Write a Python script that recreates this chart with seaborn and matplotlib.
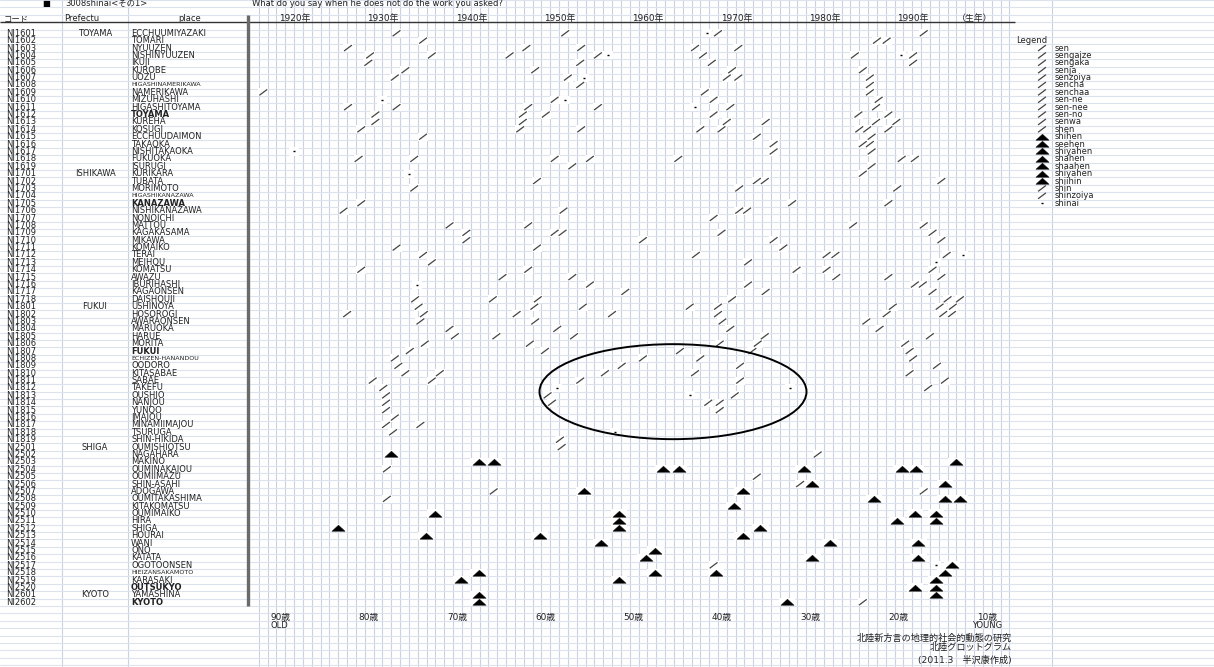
import numpy as np
import pandas as pd
import matplotlib
matplotlib.use("Agg")
import matplotlib.pyplot as plt
from matplotlib.path import Path
from matplotlib.patches import Ellipse
import seaborn as sns

# ---- data -------------------------------------------------------------
pref_names = ["TOYAMA", "ISHIKAWA", "FUKUI", "SHIGA", "KYOTO"]
pref_codes = [16, 17, 18, 25, 26]
pref_counts = [19, 18, 19, 20, 2]

places = [
    "ECCHUUMIYAZAKI", "TOMARI", "NYUUZEN", "NISHINYUUZEN", "IKUJI", "KUROBE", "UOZU",
    "HIGASHINAMERIKAWA", "NAMERIKAWA", "MIZUHASHI", "HIGASHITOYAMA", "TOYAMA", "KUREHA",
    "KOSUGI", "ECCHUUDAIMON", "TAKAOKA", "NISHITAKAOKA", "FUKUOKA", "ISURUGI",
    "KURIKARA", "TUBATA", "MORIMOTO", "HIGASHIKANAZAWA", "KANAZAWA", "NISHIKANAZAWA",
    "NONOICHI", "MATTOU", "KAGAKASAMA", "MIKAWA", "KOMAIKO", "TERAI", "MEIHOU",
    "KOMATSU", "AWAZU", "IBURIHASHI", "KAGAONSEN", "DAISHOUJI",
    "USHINOYA", "HOSOROGI", "AWARAONSEN", "MARUOKA", "HARUE", "MORITA", "FUKUI",
    "ECHIZEN-HANANDOU", "OODORO", "KITASABAE", "SABAE", "TAKEFU", "OUSHIO", "NANJOU",
    "YUNOO", "IMAJOU", "MINAMIIMAJOU", "TSURUGA", "SHIN-HIKIDA",
    "OUMISHIOTSU", "NAGAHARA", "MAKINO", "OUMINAKAJOU", "OUMIIMAZU", "SHIN-ASAHI",
    "ADOGAWA", "OUMITAKASHIMA", "KITAKOMATSU", "OUMIMAIKO", "HIRA", "SHIGA", "HOURAI",
    "WANI", "ONO", "KATATA", "OGOTOONSEN", "HIEIZANSAKAMOTO", "KARASAKI", "OUTSUKYO",
    "YAMASHINA", "KYOTO",
]
bold_places = ["TOYAMA", "KANAZAWA", "FUKUI", "OUTSUKYO", "KYOTO"]
small_places = ["HIGASHINAMERIKAWA", "HIGASHIKANAZAWA", "ECHIZEN-HANANDOU", "HIEIZANSAKAMOTO"]

# birth years of informants, one list per place (row order as above)
sen_years = [
    [1933.6, 1952.7, 1970.0, 1993.3], [1936.6, 1988.0, 1989.1],
    [1928.1, 1948.3, 1954.5, 1967.4, 1972.3],
    [1930.6, 1937.6, 1946.4, 1956.4, 1968.3, 1985.5, 1992.1],
    [1930.4, 1954.4, 1969.3, 1992.1], [1934.6, 1949.3, 1971.6, 1986.4],
    [1933.4, 1953.0, 1971.0, 1972.3, 1987.2], [1954.4, 1987.2], [1918.5, 1968.5, 1987.2],
    [1951.5, 1969.5, 1988.2], [1928.1, 1933.6, 1948.5, 1956.4, 1971.4, 1987.9],
    [1931.2, 1947.9, 1950.5, 1969.5, 1985.9, 1989.3],
    [1931.2, 1947.9, 1971.0, 1975.4, 1987.9, 1990.2],
    [1929.6, 1947.6, 1954.5, 1968.0, 1970.4, 1986.0, 1986.9, 1989.3],
    [1936.6, 1974.4, 1987.4], [1976.3, 1986.4, 1987.2], [1976.3, 1987.4],
    [1929.3, 1935.6, 1951.5, 1955.5, 1965.5, 1990.8, 1992.3], [1953.5, 1987.4],
    [1986.4], [1949.5, 1974.4, 1975.3, 1995.3], [1935.6, 1972.4, 1990.3], [],
    [1929.6, 1978.4, 1989.3], [1927.6, 1952.5, 1972.4, 1973.3], [1969.5],
    [1939.6, 1948.5, 1985.3, 1993.3], [1941.5, 1951.5, 1952.4, 1970.4, 1994.3],
    [1941.5, 1961.5, 1976.3, 1995.3], [1933.6, 1949.5, 1977.4],
    [1936.6, 1967.5, 1982.3, 1983.3, 1995.9], [1937.6, 1973.4],
    [1929.6, 1948.5, 1978.9, 1982.3, 1994.3], [1945.6, 1953.5, 1983.4, 1989.3, 1995.3],
    [1955.5, 1973.4, 1992.3, 1993.2], [1959.5, 1975.4, 1994.3],
    [1935.7, 1944.5, 1949.6, 1971.6, 1996.0, 1997.4],
    # Fukui
    [1936.1, 1949.2, 1954.7, 1966.8, 1970.0, 1989.8, 1995.1, 1996.6],
    [1928.0, 1936.7, 1947.2, 1958.0, 1970.0, 1989.1, 1995.5, 1996.5],
    [1936.3, 1949.3, 1970.5, 1986.8], [1939.6, 1951.8, 1971.4, 1988.3],
    [1940.2, 1944.9, 1953.7, 1975.3, 1994.0], [1936.8, 1948.7, 1970.2, 1974.5, 1991.2],
    [1935.1, 1950.4, 1965.7, 1973.9, 1991.7], [1933.4, 1961.5, 1968.0, 1992.1],
    [1933.8, 1959.1, 1972.5, 1994.8], [1934.6, 1938.5, 1957.2, 1967.4, 1991.7],
    [1930.9, 1937.6, 1954.4, 1972.5, 1995.7], [1932.1, 1993.8],
    [1932.4, 1950.7, 1971.9], [1932.4, 1951.2, 1968.9, 1970.2], [1932.4, 1970.2],
    [1933.4], [1932.4, 1936.3], [1933.2], [1952.1],
    # Shiga, Kyoto
    [1952.3], [1981.3], [], [1932.5], [1974.4], [1979.3], [1944.6, 1993.3], [1932.5],
    [], [], [], [], [], [], [], [], [1969.5], [], [], [], [], [1986.4],
]
hen_years = [[] for _ in range(56)] + [
    [], [1933.0], [1942.9, 1944.6, 1997.0], [1963.8, 1965.6, 1979.7, 1990.8, 1992.4],
    [], [1980.6, 1995.7], [1954.8, 1972.8], [1987.7, 1995.7, 1997.4], [1971.8],
    [1938.0, 1958.8, 1992.3, 1994.7], [1958.8, 1990.3, 1994.7], [1927.0, 1958.8, 1974.8],
    [1936.9, 1949.8, 1972.8], [1956.8, 1982.7, 1992.7], [1962.9],
    [1961.8, 1980.7, 1992.7], [1996.5], [1942.9, 1962.9, 1969.8, 1995.7],
    [1940.9, 1958.8, 1994.7], [1992.3, 1994.7], [1942.9, 1994.7], [1942.9, 1977.8],
]
shinai_years = [
    [1968.8], [], [], [1957.5, 1990.7], [], [], [1954.8], [], [], [1932.0, 1952.7],
    [1967.4], [], [], [], [], [], [1922.0], [], [], [1935.0], [], [], [], [], [], [],
    [], [], [], [], [1997.7], [1994.7], [], [], [1935.9], [], [],
    [], [], [], [], [], [], [], [], [], [], [],
    [1951.8, 1978.2], [1966.8], [], [], [], [], [1958.3], [],
    [], [], [], [], [], [], [], [], [], [], [], [], [], [], [], [],
    [1994.7], [], [], [], [], [],
]

legend_labels = ["sen", "sengaize", "sengaka", "senja", "senzoiya", "sencha", "senchaa",
                 "sen-ne", "sen-nee", "sen-no", "senwa", "shen", "shihen", "seehen",
                 "shiyahen", "shahen", "shaahen", "shiyahen", "shiihin", "shin",
                 "shinzoiya", "shinai"]
legend_kinds = ["sen"] * 12 + ["hen"] * 7 + ["sen"] * 2 + ["shinai"]

decades = [1920, 1930, 1940, 1950, 1960, 1970, 1980, 1990]
ages = [90, 80, 70, 60, 50, 40, 30, 20, 10]

# ---- layout helpers (sheet geometry in pixels) ------------------------
W, H = 1214, 667
COL = 8.83            # pixels per year column
ROW = 7.39            # pixels per sheet row
def yr(px):
    return 1917 + (px - 250) / COL

codes = [f"NI{pc}{k:02d}" for pc, n in zip(pref_codes, pref_counts) for k in range(1, n + 1)]

rows = []
for kind, table in [("sen", sen_years), ("hen", hen_years), ("shinai", shinai_years)]:
    for i, ys in enumerate(table):
        for y in ys:
            rows.append({"year": y, "row": i, "kind": kind})
df = pd.DataFrame(rows)

sns.set_style("white")
plt.rcParams["font.family"] = ["DejaVu Sans", "Noto Sans CJK JP"]

fig = plt.figure(figsize=(W / 100, H / 100), dpi=100)
ax = fig.add_axes([0, 0, 1, 1])
ax.set_xlim(yr(0), yr(W))
ax.set_ylim(-4.5 + H / ROW, -4.5)

# spreadsheet grid
xgrid = [yr(62), yr(128)] + list(range(1918, 2004)) + [yr(1052)]
ax.set_xticks(xgrid, minor=True)
ax.set_yticks(np.arange(-4.5, 86, 1), minor=True)
ax.set_xticks([])
ax.set_yticks([])
ax.xaxis.grid(True, which="minor", color="#c9d2e3", lw=0.8)
ax.yaxis.grid(True, which="minor", color="#dde3ee", lw=0.8)
ax.tick_params(which="both", length=0)
for s in ax.spines.values():
    s.set_visible(False)
ax.set_axisbelow(True)

# marker shapes
slash = Path([(-1, -0.75), (1, 0.75)], [Path.MOVETO, Path.LINETO])
tri = Path([(-1, -0.42), (1, -0.42), (0, 0.5), (-1, -0.42)],
           [Path.MOVETO, Path.LINETO, Path.LINETO, Path.CLOSEPOLY])
box_s = Path([(-1, -0.8), (1, -0.8), (1, 0.8), (-1, 0.8), (-1, -0.8)],
             [Path.MOVETO, Path.LINETO, Path.LINETO, Path.LINETO, Path.CLOSEPOLY])
box_t = Path([(-1, -0.5), (1, -0.5), (1, 0.5), (-1, 0.5), (-1, -0.5)],
             [Path.MOVETO, Path.LINETO, Path.LINETO, Path.LINETO, Path.CLOSEPOLY])

sen = df[df.kind == "sen"]
hen = df[df.kind == "hen"]
nai = df[df.kind == "shinai"]

# white cell backgrounds behind the marks
sns.scatterplot(data=pd.concat([sen, nai]), x="year", y="row", marker=box_s, s=52,
                color="white", edgecolor="none", linewidth=0, legend=False, ax=ax, zorder=2)
sns.scatterplot(data=hen, x="year", y="row", marker=box_t, s=140,
                color="white", edgecolor="none", linewidth=0, legend=False, ax=ax, zorder=2)
# marks
sns.scatterplot(data=sen, x="year", y="row", marker=slash, s=32, color="#444",
                edgecolor="#444", facecolor="none", linewidth=0.9, legend=False, ax=ax, zorder=3)
sns.scatterplot(data=hen, x="year", y="row", marker=tri, s=90, color="black",
                edgecolor="black", linewidth=0.3, legend=False, ax=ax, zorder=3)
sns.scatterplot(data=nai, x="year", y="row", marker="_", s=4, color="black",
                edgecolor="black", linewidth=1.0, legend=False, ax=ax, zorder=3)
ax.set_xlabel("")
ax.set_ylabel("")

# ---- table on the left -------------------------------------------------
tr = ax.get_yaxis_transform()
fs = 6.0
tc = "#222222"
for i, (c, p) in enumerate(zip(codes, places)):
    ax.text(6 / W, i, c, transform=tr, fontsize=fs, va="center", color=tc)
    weight = "bold" if p in bold_places else "normal"
    size = 4.6 if p in small_places else fs
    ax.text(131 / W, i, p, transform=tr, fontsize=size, va="center",
            color=tc, fontweight=weight)
start = 0
for name, n in zip(pref_names, pref_counts):
    ax.text(95 / W, start, name, transform=tr, fontsize=fs, va="center",
            ha="center", color=tc)
    start += n

# header rows
ax.text(42 / W, -4, "■", transform=tr, fontsize=6, va="center", color="black")
ax.text(65 / W, -4, "3008shinai<その1>", transform=tr, fontsize=fs, va="center", color=tc)
ax.text(252 / W, -4, "What do you say when he does not do the work you asked?",
        transform=tr, fontsize=fs, va="center", color=tc)
ax.text(4 / W, -2, "コード", transform=tr, fontsize=fs, va="center", color=tc)
ax.text(64 / W, -2, "Prefectu", transform=tr, fontsize=fs, va="center", color=tc)
ax.text(190 / W, -2, "place", transform=tr, fontsize=fs, va="center", ha="center", color=tc)
for d in decades:
    ax.text(d + 0.3, -2, f"{d}年", fontsize=fs + 0.4, va="center", color=tc)
ax.text(yr(957), -2, "（生年）", fontsize=fs + 0.4, va="center", color=tc)
ax.hlines(-1.5, yr(0), yr(1015), color="#333333", lw=1.0, zorder=4)
ax.vlines(yr(248), -2.5, 77.5, color="#6a6a6a", lw=2.4, zorder=4)

# age scale at the bottom
for a in ages:
    ax.text(1919.3 + (90 - a), 79, f"{a}歳", fontsize=fs + 0.4, va="center", color=tc)
ax.text(1919.3, 80.1, "OLD", fontsize=fs, va="center", color=tc)
ax.text(yr(972), 80.1, "YOUNG", fontsize=fs, va="center", color=tc)
ax.text(yr(1012), 81.9, "北陸新方言の地理的社会的動態の研究", fontsize=6.6,
        va="center", ha="right", color=tc)
ax.text(yr(1012), 83.1, "北陸グロットグラム", fontsize=6.6, va="center", ha="right", color=tc)
ax.text(yr(1012), 84.9, "(2011.3　半沢康作成)", fontsize=6.6, va="center", ha="right", color=tc)

# ---- legend -------------------------------------------------------------
ax.text(yr(1016), 1, "Legend", fontsize=fs, va="center", color=tc)
leg = pd.DataFrame({"row": np.arange(2, 2 + len(legend_labels)),
                    "kind": legend_kinds, "label": legend_labels})
leg["x"] = yr(1042)
sns.scatterplot(data=leg[leg.kind == "sen"], x="x", y="row", marker=slash, s=32,
                color="#444", edgecolor="#444", facecolor="none", linewidth=0.9,
                legend=False, ax=ax, zorder=3)
sns.scatterplot(data=leg[leg.kind == "hen"], x="x", y="row", marker=tri, s=90,
                color="black", edgecolor="black", linewidth=0.3, legend=False, ax=ax, zorder=3)
sns.scatterplot(data=leg[leg.kind == "shinai"], x="x", y="row", marker="_", s=4,
                color="black", edgecolor="black", linewidth=1.0, legend=False, ax=ax, zorder=3)
for r, lab in zip(leg.row, leg.label):
    ax.text(yr(1055), r, lab, fontsize=fs, va="center", color=tc)
ax.set_xlabel("")
ax.set_ylabel("")

# circled area
ax.add_patch(Ellipse((yr(673), 48.5), 267 / COL, 95 / ROW, fill=False,
                     ec="black", lw=1.4, zorder=5))

fig.savefig("out.png", dpi=100)
